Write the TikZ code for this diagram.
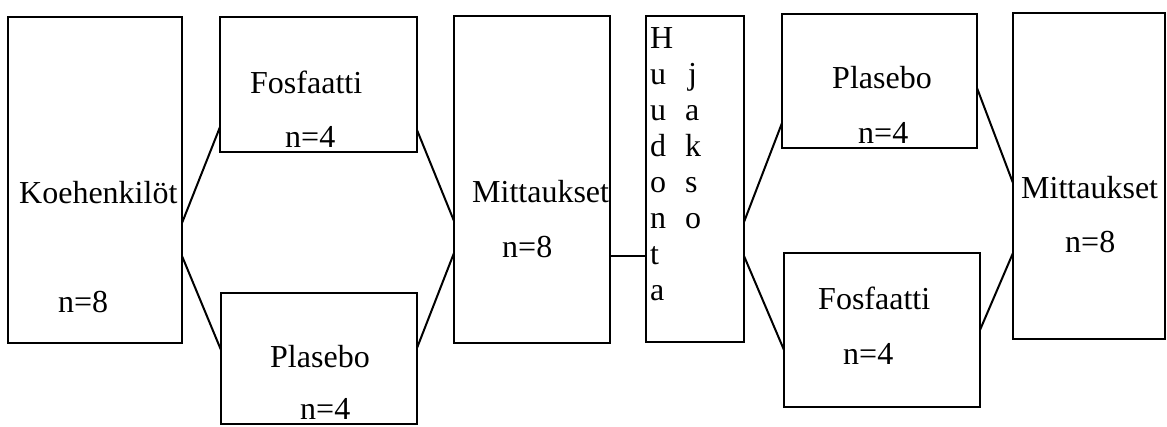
\documentclass[tikz,border=0pt]{standalone}
\usepackage{fontspec}
\setmainfont{Liberation Serif}
\begin{document}
\begin{tikzpicture}[x=1pt,y=-1pt,
  box/.style={draw=black,line width=2pt,inner sep=0pt,outer sep=0pt,rectangle},
  txt/.style={anchor=base west,inner sep=0pt,font=\fontsize{32}{36}\selectfont},
  link/.style={draw=black,line width=2pt},
  thinlink/.style={draw=black,line width=1.2pt}]
\useasboundingbox (0,0) rectangle (1167,426);
% boxes
\node[box,minimum width=174pt,minimum height=326pt] (koe)  at (95,180) {};
\node[box,minimum width=197pt,minimum height=135pt] (fos1) at (318.5,84.5) {};
\node[box,minimum width=196pt,minimum height=131pt] (pla1) at (319,358.5) {};
\node[box,minimum width=156pt,minimum height=327pt] (mit1) at (532,179.5) {};
\node[box,minimum width=98pt,minimum height=326pt]  (huu)  at (695,179) {};
\node[box,minimum width=195pt,minimum height=134pt] (pla2) at (879.5,81) {};
\node[box,minimum width=196pt,minimum height=154pt] (fos2) at (882,330) {};
\node[box,minimum width=152pt,minimum height=326pt] (mit2) at (1089,176) {};
% texts
\node[txt] (t1) at (19,203) {Koehenkilöt};
\node[txt] (t2) at (58,312) {n=8};
\node[txt] (t3) at (250,93) {Fosfaatti};
\node[txt] (t4) at (285,147) {n=4};
\node[txt] (t5) at (270,367) {Plasebo};
\node[txt] (t6) at (300,419) {n=4};
\node[txt] (t7) at (472,202) {Mittaukset};
\node[txt] (t8) at (502,257) {n=8};
\node[txt] (t9) at (832,88) {Plasebo};
\node[txt] (t10) at (858,143) {n=4};
\node[txt] (t11) at (818,309) {Fosfaatti};
\node[txt] (t12) at (843,364) {n=4};
\node[txt] (t13) at (1021,198) {Mittaukset};
\node[txt] (t14) at (1065,252) {n=8};
% vertical letters
\node[txt] (h1) at (650,48) {H};
\node[txt] (h2) at (650,84) {u};
\node[txt] (h3) at (650,120) {u};
\node[txt] (h4) at (650,156) {d};
\node[txt] (h5) at (650,192) {o};
\node[txt] (h6) at (650,228) {n};
\node[txt] (h7) at (650,264) {t};
\node[txt] (h8) at (650,300) {a};
\node[txt] (j1) at (688,84) {j};
\node[txt] (j2) at (685,120) {a};
\node[txt] (j3) at (685,156) {k};
\node[txt] (j4) at (685,192) {s};
\node[txt] (j5) at (685,228) {o};
% connectors
\draw[link] (koe.east |- 0,223) -- (fos1.west |- 0,127);
\draw[link] (koe.east |- 0,256) -- (pla1.west |- 0,350);
\draw[link] (fos1.east |- 0,130) -- (mit1.west |- 0,221);
\draw[link] (pla1.east |- 0,348) -- (mit1.west |- 0,253);
\draw[thinlink] (mit1.east |- 0,256) -- (huu.west |- 0,256);
\draw[link] (huu.east |- 0,222) -- (pla2.west |- 0,123);
\draw[link] (huu.east |- 0,256) -- (fos2.west |- 0,350);
\draw[link] (pla2.east |- 0,88) -- (mit2.west |- 0,183);
\draw[link] (fos2.east |- 0,330) -- (mit2.west |- 0,253);
\end{tikzpicture}
\end{document}
